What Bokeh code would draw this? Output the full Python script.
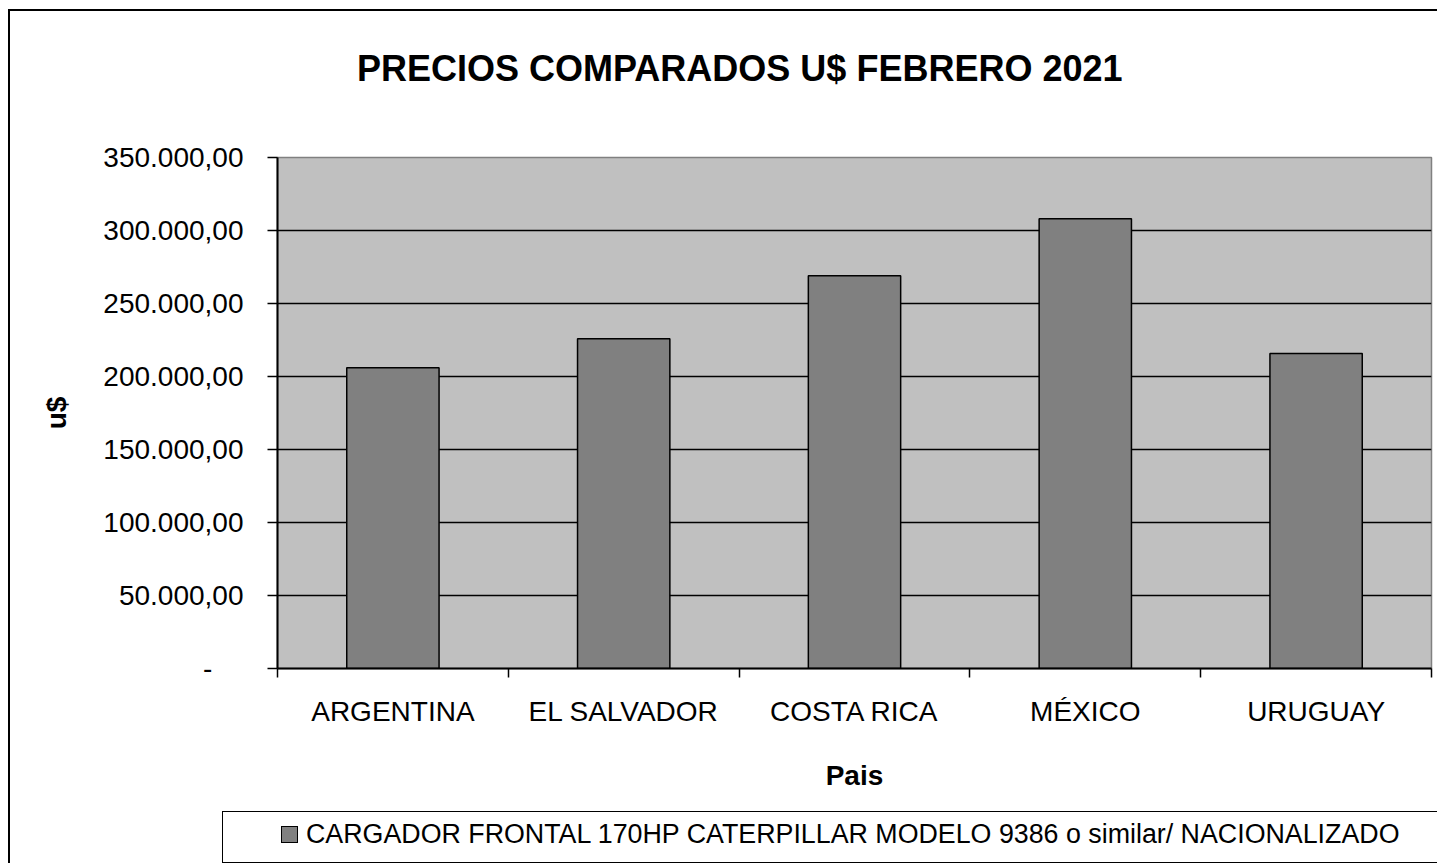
from bokeh.plotting import figure
from bokeh.models import FixedTicker, Div
from bokeh.layouts import column
from bokeh.embed import file_html
from bokeh.resources import INLINE

# ---- data ----
countries = ["ARGENTINA", "EL SALVADOR", "COSTA RICA", "MÉXICO", "URUGUAY"]
prices = [206000, 225800, 269000, 308000, 215700]
y_ticks = [0, 50000, 100000, 150000, 200000, 250000, 300000, 350000]
series_name = "CARGADOR FRONTAL 170HP CATERPILLAR MODELO 9386 o similar/ NACIONALIZADO"
title_text = "PRECIOS COMPARADOS U$ FEBRERO 2021"
x_label = "Pais"
y_label = "u$"

FONT = "Liberation Sans"
BAR_FILL = "#808080"

n = len(countries)
centers = [i + 0.5 for i in range(n)]
bounds = [float(i) for i in range(n + 1)]


def fmt(v):
    if v == 0:
        return "-\u00a0\u00a0\u00a0\u00a0"
    s = f"{v:,.2f}"
    return s.replace(",", "X").replace(".", ",").replace("X", ".")


# ---- title ----
title_div = Div(
    text=(f'<div style="padding:40px 0 0 347px;margin:0;white-space:nowrap;'
          f'font-family:\'{FONT}\';font-size:36px;font-weight:bold;'
          f'line-height:36px;color:black;">{title_text}</div>'),
    width=1427, height=100, margin=(0, 0, 0, 0))

# ---- chart ----
p = figure(width=1427, height=700, output_backend="svg", toolbar_location=None,
           x_range=(0, n), y_range=(0, y_ticks[-1]),
           min_border_left=267, min_border_top=46, min_border_right=6,
           min_border_bottom=143, margin=(0, 0, 0, 0))

p.background_fill_color = "#C0C0C0"
p.border_fill_color = "white"
p.outline_line_color = "#808080"
p.outline_line_width = 1.5

r = p.vbar(x=centers, top=prices, width=0.4, fill_color=BAR_FILL,
           line_color="black", line_width=1.5)

# x axis
xa = p.xaxis[0]
xa.ticker = FixedTicker(ticks=centers, minor_ticks=bounds)
xa.major_label_overrides = {c: name for c, name in zip(centers, countries)}
xa.major_tick_out = 0
xa.major_tick_in = 0
xa.minor_tick_out = 9
xa.minor_tick_in = 0
xa.minor_tick_line_color = "black"
xa.minor_tick_line_width = 1.5
xa.axis_line_color = "black"
xa.axis_line_width = 2
xa.major_label_text_font = FONT
xa.major_label_text_font_size = "28px"
xa.major_label_text_color = "black"
xa.major_label_standoff = 18
xa.axis_label = x_label
xa.axis_label_text_font = FONT
xa.axis_label_text_font_size = "28px"
xa.axis_label_text_font_style = "bold"
xa.axis_label_text_color = "black"
xa.axis_label_standoff = 30

# y axis
ya = p.yaxis[0]
ya.ticker = FixedTicker(ticks=y_ticks, minor_ticks=[])
ya.major_label_overrides = {v: fmt(v) for v in y_ticks}
ya.major_tick_out = 10
ya.major_tick_in = 0
ya.major_tick_line_color = "black"
ya.major_tick_line_width = 1.5
ya.axis_line_color = "black"
ya.axis_line_width = 2
ya.major_label_text_font = FONT
ya.major_label_text_font_size = "28px"
ya.major_label_text_color = "black"
ya.major_label_standoff = 24
ya.axis_label = y_label
ya.axis_label_text_font = FONT
ya.axis_label_text_font_size = "28px"
ya.axis_label_text_font_style = "bold"
ya.axis_label_text_color = "black"
ya.axis_label_standoff = 28

p.xgrid.visible = False
p.ygrid.ticker = FixedTicker(ticks=y_ticks[1:-1], minor_ticks=[])
p.ygrid.grid_line_color = "black"
p.ygrid.grid_line_width = 1.5

# ---- legend box ----
legend_div = Div(
    text=(f'<div style="box-sizing:border-box;position:relative;overflow:hidden;'
          f'width:1215px;height:52px;border:1.5px solid black;border-right:none;'
          f'background:white;">'
          f'<div style="box-sizing:border-box;position:absolute;left:58px;top:14px;'
          f'width:17px;height:17px;'
          f'background:{BAR_FILL};border:1.5px solid black;"></div>'
          f'<div style="position:absolute;left:83px;top:9px;white-space:nowrap;'
          f'font-family:\'{FONT}\';font-size:26.8px;line-height:26.8px;color:black;">'
          f'{series_name}</div></div>'),
    width=1215, height=52, margin=(0, 0, 0, 212))

layout = column(title_div, p, legend_div, spacing=0,
                styles={"margin-left": "8px", "margin-top": "9px",
                        "border-left": "2px solid black",
                        "border-top": "2px solid black"})

open("out.html", "w").write(file_html(layout, INLINE))
